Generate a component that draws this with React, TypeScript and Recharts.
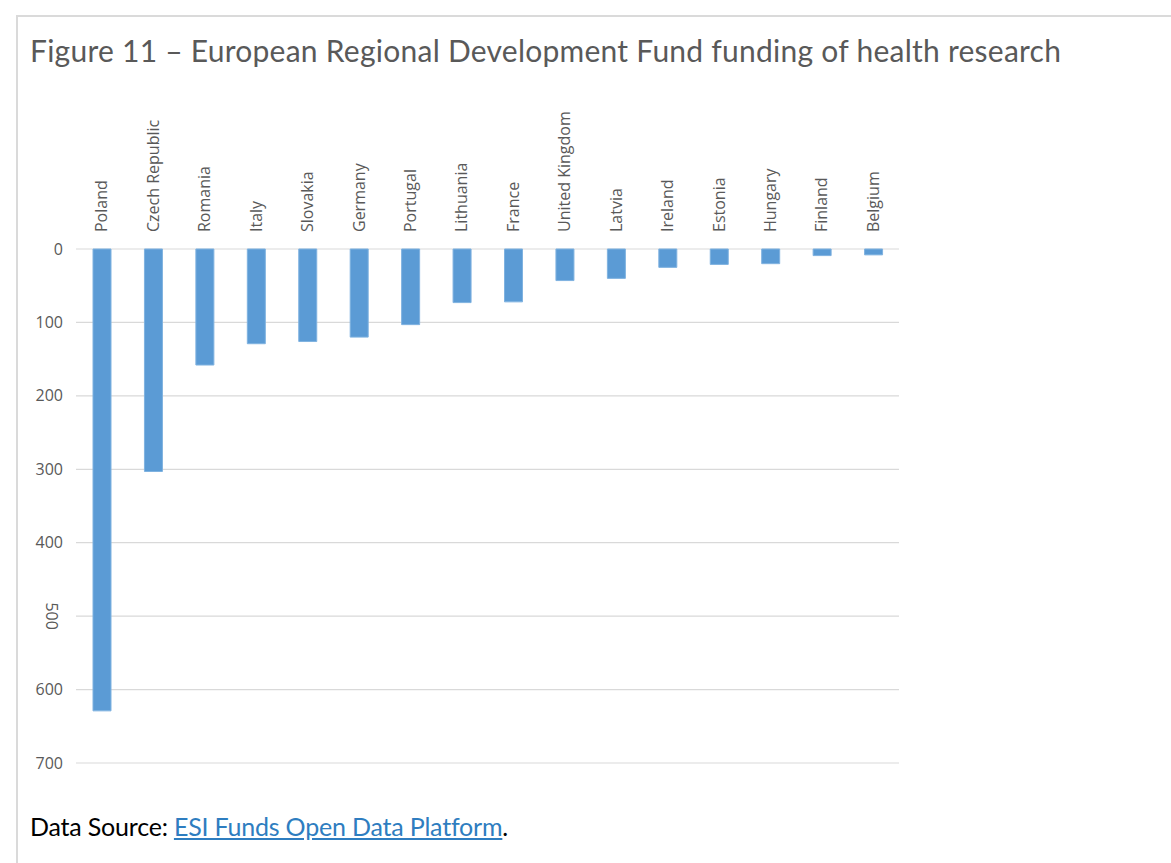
import { Bar, BarChart, CartesianGrid, XAxis, YAxis } from "recharts";

const countries = [
  "Poland",
  "Czech Republic",
  "Romania",
  "Italy",
  "Slovakia",
  "Germany",
  "Portugal",
  "Lithuania",
  "France",
  "United Kingdom",
  "Latvia",
  "Ireland",
  "Estonia",
  "Hungary",
  "Finland",
  "Belgium",
];

const funding = [629, 303, 158, 129, 126, 120, 103, 73, 72, 43, 40, 25, 21, 20, 9, 8];

const yTicks = [0, 100, 200, 300, 400, 500, 600, 700];

const data = countries.map((name, i) => ({ name, value: funding[i] }));

const GREY = "#595959";

const CountryTick = (props: any) => {
  const { x, y, payload } = props;
  return (
    <text
      transform={`translate(${x},${y}) rotate(-90)`}
      textAnchor="start"
      dy="0.35em"
      fill={GREY}
      fontSize={16}
      fontFamily="'Open Sans', sans-serif"
    >
      {payload.value}
    </text>
  );
};

const ValueTick = (props: any) => {
  const { x, y, payload } = props;
  // the 500 label is printed sideways in the source figure
  if (payload.value === 500) {
    return (
      <text
        transform={`translate(${x - 11},${y}) rotate(90)`}
        textAnchor="middle"
        dy="0.35em"
        fill={GREY}
        fontSize={16}
        fontFamily="'Open Sans', sans-serif"
      >
        {payload.value}
      </text>
    );
  }
  return (
    <text
      x={x}
      y={y}
      textAnchor="end"
      dy="0.35em"
      fill={GREY}
      fontSize={16}
      fontFamily="'Open Sans', sans-serif"
    >
      {payload.value}
    </text>
  );
};

export default function App() {
  return (
    <div
      style={{
        position: "absolute",
        left: 0,
        top: 0,
        width: 1171,
        height: 863,
        background: "#fff",
        overflow: "hidden",
      }}
    >
      <div
        style={{
          position: "absolute",
          left: 16,
          top: 15,
          width: 1200,
          height: 900,
          borderTop: "2px solid #dadada",
          borderLeft: "2px solid #dadada",
        }}
      />
      <div
        style={{
          position: "absolute",
          left: 30,
          top: 32,
          fontFamily: "Lato, sans-serif",
          fontSize: 30,
          color: GREY,
          whiteSpace: "nowrap",
          letterSpacing: 0.25,
        }}
      >
        Figure 11 – European Regional Development Fund funding of health research
      </div>
      <div style={{ position: "absolute", left: 0, top: 90 }}>
        <BarChart
          width={920}
          height={690}
          data={data}
          margin={{ top: 0, right: 21, bottom: 17, left: 16 }}
        >
          <CartesianGrid vertical={false} stroke="#d9d9d9" strokeWidth={1.2} />
          <XAxis
            dataKey="name"
            orientation="top"
            height={159}
            interval={0}
            axisLine={false}
            tickLine={false}
            tickSize={0}
            tickMargin={17}
            tick={<CountryTick />}
          />
          <YAxis
            reversed
            domain={[0, 700]}
            ticks={yTicks}
            width={60}
            axisLine={false}
            tickLine={false}
            tickSize={0}
            tickMargin={13}
            tick={<ValueTick />}
          />
          <Bar
            dataKey="value"
            fill="#5b9bd5"
            stroke="#7fb2e0"
            strokeWidth={1}
            barSize={18}
            isAnimationActive={false}
          />
        </BarChart>
      </div>
      <div
        style={{
          position: "absolute",
          left: 30,
          top: 811,
          fontFamily: "Lato, sans-serif",
          fontSize: 25,
          color: "#000",
          whiteSpace: "nowrap",
          letterSpacing: -0.2,
        }}
      >
        Data Source:{" "}
        <span style={{ color: "#2e7dc0", textDecoration: "underline" }}>
          ESI Funds Open Data Platform
        </span>
        .
      </div>
    </div>
  );
}
